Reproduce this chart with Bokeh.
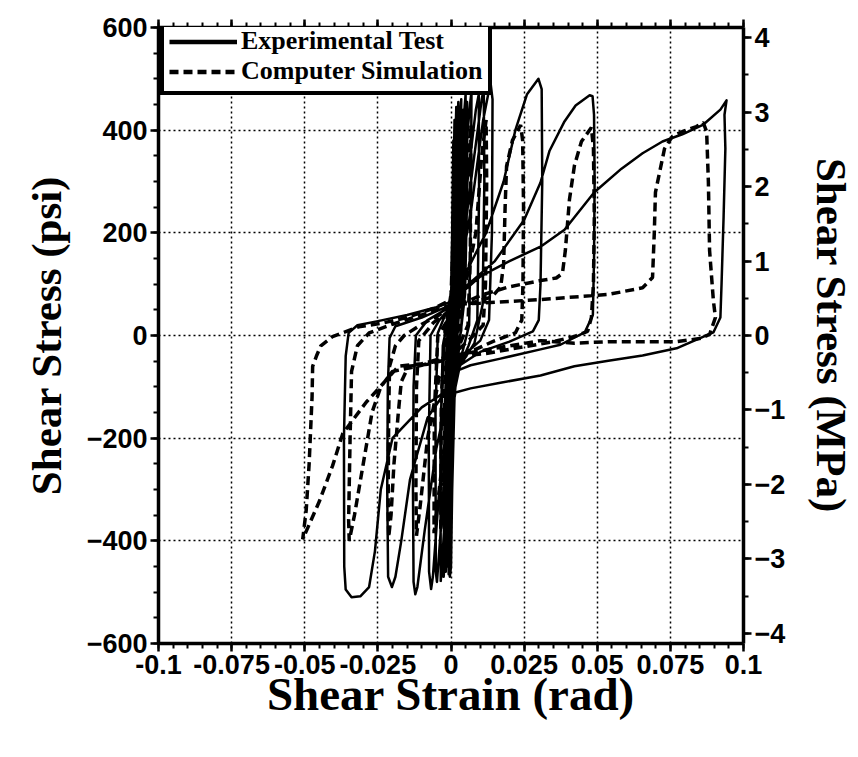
from bokeh.plotting import figure
from bokeh.models import (LinearAxis, Range1d, FixedTicker, Legend, LegendItem)
from bokeh.embed import file_html
from bokeh.resources import INLINE

# ---------------- data (strain [rad], stress [psi]) ----------------
x_ticks = [-0.1, -0.075, -0.05, -0.025, 0.0, 0.025, 0.05, 0.075, 0.1]
x_tick_labels = ["-0.1", "-0.075", "-0.05", "-0.025", "0", "0.025", "0.05", "0.075", "0.1"]
psi_ticks = [-600, -400, -200, 0, 200, 400, 600]
mpa_ticks = [-4, -3, -2, -1, 0, 1, 2, 3, 4]
PSI_PER_MPA = 145.038

# Experimental test: small cycles around the origin (dense central band)
exp_small = [
    (0, 0), (0.0004, 200), (0.0008, 380), (0.0006, 150), (0.0002, 20), (-0.0004, -200), (-0.0008, -390), (-0.0006, -150), (-0.0002, -10),
    (0.0005, 150), (0.0012, 420), (0.0009, 120), (0.0003, 10), (-0.0005, -200), (-0.0012, -430), (-0.0009, -120), (-0.0003, 0),
    (0.0008, 200), (0.0018, 445), (0.0014, 100), (0.0005, 0), (-0.0006, -250), (-0.0015, -450), (-0.0012, -100), (-0.0004, 10),
    (0.0012, 230), (0.0022, 430), (0.0024, 300), (0.0018, 60), (0.0002, -40), (-0.0004, -250), (-0.0009, -440), (-0.0016, -300), (-0.0014, -60), (0.0, 30),
    (0.001, 200), (0.0025, 455), (0.0021, 120), (0.0008, -10), (-0.0008, -280), (-0.0018, -460), (-0.0014, -90), (-0.0005, 20),
    (0.0018, 240), (0.0032, 420), (0.0036, 380), (0.0034, 200), (0.0026, 60), (0.001, -50), (0.0004, -200), (-0.0002, -400), (-0.0008, -465), (-0.0010, -300), (-0.0004, -80), (0.0008, 30),
    (0.0014, 260), (0.0026, 410), (0.003, 445), (0.0029, 250), (0.0022, 40), (0.0005, -60), (-0.0002, -300), (-0.0006, -455), (-0.0012, -380), (-0.0013, -120), (0.0001, 40),
    (0.0022, 200), (0.0038, 330), (0.0042, 440), (0.0040, 280), (0.0033, 90), (0.0018, -30), (0.0008, -150), (0.0002, -350), (-0.0003, -440), (-0.0006, -250), (0.0002, -40), (0.0012, 50),
    (0.0012, 180), (0.0028, 400), (0.0035, 460), (0.0031, 150), (0.0015, -20), (-0.0005, -200), (-0.002, -420), (-0.0025, -470), (-0.0022, -150), (-0.0012, 0), (0, 40),
    (0.0015, 150), (0.0035, 360), (0.005, 470), (0.0047, 200), (0.0035, 10), (0.0015, -40), (-0.0005, -200), (-0.0028, -420), (-0.0035, -478), (-0.0036, -200), (-0.0028, -20), (-0.001, 30), (0.0005, 60),
    (0.0025, 180), (0.0045, 380), (0.0055, 455), (0.0056, 300), (0.0048, 80), (0.0028, -20), (0.0012, -120), (0.0004, -300), (0.0, -450), (-0.0004, -470), (-0.0008, -350), (-0.0002, -60), (0.001, 40),
    (0.002, 140), (0.0045, 320), (0.0065, 450), (0.007, 475), (0.0068, 250), (0.0062, 20), (0.004, -30), (0.0012, -80), (-0.001, -180), (-0.0035, -380), (-0.0048, -480), (-0.0052, -460), (-0.0053, -150), (-0.0045, 5), (-0.002, 40), (0.0005, 70),
    (0.0025, 130), (0.006, 320), (0.0085, 440), (0.0095, 470), (0.0096, 280), (0.009, 30), (0.006, -20), (0.0015, -80), (-0.0008, -150), (-0.004, -300), (-0.0062, -470), (-0.0068, -494), (-0.0075, -460), (-0.0076, -200), (-0.007, 0), (-0.004, 30), (0, 55),
    (0.0035, 150), (0.0075, 330), (0.0105, 460), (0.0112, 480), (0.0114, 300), (0.0108, 60), (0.008, -15), (0.003, -60), (0.0008, -120), (-0.001, -250), (-0.0025, -420), (-0.0032, -470), (-0.0036, -420), (-0.0034, -150), (-0.002, 20), (0.0005, 60),
    (0.003, 120), (0.007, 250), (0.011, 420), (0.0135, 493), (0.0142, 460), (0.014, 200), (0.013, 30), (0.010, -10), (0.004, -40), (0.001, -75), (-0.002, -140), (-0.005, -220), (-0.009, -380), (-0.0115, -490), (-0.0122, -504), (-0.0128, -480), (-0.013, -300), (-0.0128, -100), (-0.012, 0), (-0.008, 30), (-0.002, 50), (0.001, 70),
]
# Experimental test: large cycles
exp_large = [
    (0.004, 110), (0.012, 200), (0.018, 300), (0.022, 400), (0.026, 470), (0.0299, 500), (0.031, 480), (0.0312, 300), (0.0306, 100), (0.0300, 30), (0.028, 8), (0.02, -12), (0.01, -32), (0.002, -62),
    (-0.002, -110), (-0.008, -160), (-0.014, -280), (-0.017, -400), (-0.019, -470), (-0.0202, -490), (-0.0215, -470), (-0.0218, -300), (-0.0216, -100), (-0.021, -5), (-0.019, 18), (-0.01, 35), (0.001, 62),
    (0.004, 90), (0.015, 145), (0.025, 225), (0.0306, 298), (0.0337, 360), (0.0388, 417), (0.0426, 448), (0.0474, 468), (0.0484, 466), (0.0489, 430), (0.0491, 300), (0.0489, 150), (0.0485, 40), (0.0457, 6), (0.0374, -18), (0.0306, -27), (0.0169, -45), (0.0067, -58), (0.0015, -70),
    (-0.002, -110), (-0.01, -140), (-0.02, -200), (-0.024, -300), (-0.026, -420), (-0.028, -490), (-0.031, -508), (-0.034, -510), (-0.036, -495), (-0.0365, -450), (-0.0366, -200), (-0.036, -40), (-0.035, 5), (-0.032, 20), (-0.025, 28), (-0.015, 40), (-0.005, 55), (0.001, 68),
    (0.004, 85), (0.010, 115), (0.020, 145), (0.0306, 173), (0.0388, 206), (0.049, 279), (0.0583, 325), (0.0655, 355), (0.0723, 378), (0.0791, 392), (0.0863, 411), (0.0921, 440), (0.0942, 458), (0.0935, 430), (0.0938, 364), (0.0932, 232), (0.0925, 101), (0.0921, 35), (0.0897, 6),
    (0.0771, -25), (0.0655, -39), (0.0538, -49), (0.0422, -60), (0.0306, -78), (0.0169, -92), (0.0067, -103), (0.0015, -111), (0, -160),
]
# Computer simulation: small cycles
sim_small = [
    (0, 0), (0.0008, 250), (0.0015, 330), (0.0012, 100), (0.0006, 0), (-0.0006, -250), (-0.0012, -330), (-0.001, -100), (-0.0004, 0),
    (0.001, 250), (0.0025, 380), (0.0022, 120), (0.001, 0), (-0.001, -250), (-0.0025, -370), (-0.0022, -100), (-0.001, 0),
    (0.0015, 200), (0.004, 400), (0.0038, 150), (0.003, 20), (0.001, -20), (-0.001, -200), (-0.0035, -380), (-0.0033, -120), (-0.002, 10),
    (0.002, 150), (0.005, 300), (0.0068, 410), (0.0066, 150), (0.0058, 20), (0.002, -30), (-0.001, -150), (-0.004, -300), (-0.0058, -385), (-0.0057, -150), (-0.0045, 0), (0, 40),
    (0.005, 100), (0.0085, 200), (0.0105, 350), (0.012, 420), (0.0122, 300), (0.0118, 100), (0.011, 20), (0.006, -10), (0.001, -35), (-0.004, -80), (-0.008, -200), (-0.0105, -330), (-0.0118, -390), (-0.012, -300), (-0.0118, -100), (-0.011, -10), (-0.006, 25), (0, 50),
]
# Computer simulation: large cycles
sim_large = [
    (0.008, 65), (0.014, 75), (0.017, 95), (0.018, 140), (0.0185, 250), (0.019, 330), (0.021, 380), (0.0238, 410), (0.0245, 380), (0.0248, 250), (0.0246, 100), (0.0242, 30), (0.022, 5), (0.015, -10), (0.008, -28), (0, -45),
    (-0.008, -56), (-0.0145, -60), (-0.017, -90), (-0.018, -150), (-0.0195, -250), (-0.0205, -350), (-0.0213, -393), (-0.0215, -340), (-0.0213, -150), (-0.021, -60), (-0.019, -20), (-0.016, 0), (-0.01, 22), (0, 52),
    (0.01, 78), (0.02, 95), (0.0306, 107), (0.036, 112), (0.0381, 121), (0.0391, 166), (0.0405, 265), (0.0422, 331), (0.0446, 378), (0.048, 405), (0.0487, 364), (0.049, 232), (0.0487, 101), (0.048, 35), (0.0467, 8), (0.0422, -2), (0.035, -12), (0.025, -22), (0.012, -35), (0, -42),
    (-0.01, -58), (-0.02, -70), (-0.024, -100), (-0.027, -150), (-0.03, -250), (-0.033, -350), (-0.0348, -400), (-0.035, -360), (-0.0345, -200), (-0.034, -70), (-0.032, -20), (-0.028, 5), (-0.02, 22), (-0.01, 40), (0, 60),
    (0.01, 63), (0.0306, 70), (0.0538, 80), (0.0655, 93), (0.0689, 113), (0.0695, 200), (0.0699, 279), (0.073, 364), (0.0757, 388), (0.079, 397), (0.0839, 407), (0.0862, 415), (0.0874, 397), (0.088, 298), (0.0884, 166), (0.0897, 68), (0.0904, 35), (0.0884, 2), (0.085, -6),
    (0.0771, -12), (0.0655, -12), (0.0538, -12), (0.0422, -15), (0.0306, -10), (0.015, -25), (0, -40),
    (-0.01, -55), (-0.018, -60), (-0.025, -105), (-0.029, -130), (-0.037, -191), (-0.0405, -254), (-0.045, -323), (-0.0507, -397), (-0.0495, -340), (-0.0485, -250), (-0.0475, -120), (-0.0473, -60), (-0.046, -40), (-0.0445, -20), (-0.0405, -2), (-0.0315, 17), (-0.0235, 24), (-0.015, 35), (-0.005, 55), (0, 70),
]

legend_labels = ["Experimental Test", "Computer Simulation"]

exp_x, exp_y = zip(*(exp_small + exp_large))
sim_x, sim_y = zip(*(sim_small + sim_large))

# ---------------- figure ----------------
p = figure(width=858, height=757, x_range=Range1d(-0.1, 0.1), y_range=Range1d(-600, 600),
           output_backend="svg", toolbar_location=None,
           min_border_left=158, min_border_right=115, min_border_top=27, min_border_bottom=114)
p.outline_line_color = None
p.background_fill_color = "white"
p.border_fill_color = "white"

p.extra_y_ranges = {"mpa": Range1d(-600 / PSI_PER_MPA, 600 / PSI_PER_MPA)}

x_minor = [round(-0.1 + i * 0.005, 4) for i in range(41)]
psi_minor = [-600 + i * 50 for i in range(25)]
mpa_minor = [-4 + i * 0.5 for i in range(17)]

p.xaxis.ticker = FixedTicker(ticks=x_ticks, minor_ticks=x_minor)
p.yaxis.ticker = FixedTicker(ticks=psi_ticks, minor_ticks=psi_minor)
p.xaxis.major_label_overrides = dict(zip(x_ticks, x_tick_labels))

right = LinearAxis(y_range_name="mpa", ticker=FixedTicker(ticks=mpa_ticks, minor_ticks=mpa_minor))
p.add_layout(right, "right")
top = LinearAxis(ticker=FixedTicker(ticks=x_ticks, minor_ticks=x_minor))
p.add_layout(top, "above")

for ax in [p.below[0], p.left[0], right, top]:
    ax.axis_line_width = 3.5
    ax.axis_line_color = "black"
    ax.major_tick_line_width = 2.5
    ax.major_tick_line_color = "black"
    ax.minor_tick_line_width = 2
    ax.minor_tick_line_color = "black"
    ax.major_tick_out = 8
    ax.major_tick_in = 0
    ax.minor_tick_out = 5
    ax.minor_tick_in = 0
    ax.major_label_text_font = "Liberation Sans"
    ax.major_label_text_font_style = "bold"
    ax.major_label_text_font_size = "27px"
    ax.major_label_text_color = "black"
    ax.major_label_standoff = 3
    ax.axis_label_text_font = "Liberation Serif"
    ax.axis_label_text_font_style = "bold"
    ax.axis_label_text_font_size = "43px"
    ax.axis_label_text_color = "black"

# top axis: ticks only, no labels
top.major_label_overrides = {t: "" for t in x_ticks}
top.major_label_standoff = 0

p.below[0].axis_label = "Shear Strain (rad)"
p.below[0].axis_label_text_font_size = "47px"
p.below[0].axis_label_standoff = -9
p.left[0].axis_label = "Shear Stress (psi)"
p.left[0].axis_label_standoff = 14
right.axis_label = "Shear Stress (MPa)"
right.axis_label_standoff = 20

for g in [p.xgrid[0], p.ygrid[0]]:
    g.grid_line_color = "black"
    g.grid_line_width = 1.5
    g.grid_line_dash = "2 3"

# ---------------- curves ----------------
p.line(list(exp_x), list(exp_y), line_color="black", line_width=2.5, line_join="round")
p.line(list(sim_x), list(sim_y), line_color="black", line_width=3.5, line_dash="9 5")

# legend samples (not-a-number data: draw nothing in the plot, only in the legend)
nan = float("nan")
leg_exp = p.line([nan], [nan], line_color="black", line_width=4.5)
leg_sim = p.line([nan], [nan], line_color="black", line_width=4.5, line_dash="9 5")
legend = Legend(items=[LegendItem(label=legend_labels[0], renderers=[leg_exp]),
                       LegendItem(label=legend_labels[1], renderers=[leg_sim])],
                location=(2, 548))
legend.border_line_color = "black"
legend.border_line_alpha = 1
legend.border_line_width = 4.5
legend.background_fill_color = "white"
legend.background_fill_alpha = 1
legend.label_text_font = "Liberation Serif"
legend.label_text_font_style = "bold"
legend.label_text_font_size = "26px"
legend.label_text_color = "black"
legend.glyph_width = 68
legend.glyph_height = 29
legend.label_height = 29
legend.label_standoff = 4
legend.spacing = 0
legend.padding = 5
legend.margin = 0
p.add_layout(legend)

open("out.html", "w").write(file_html(p, INLINE))
